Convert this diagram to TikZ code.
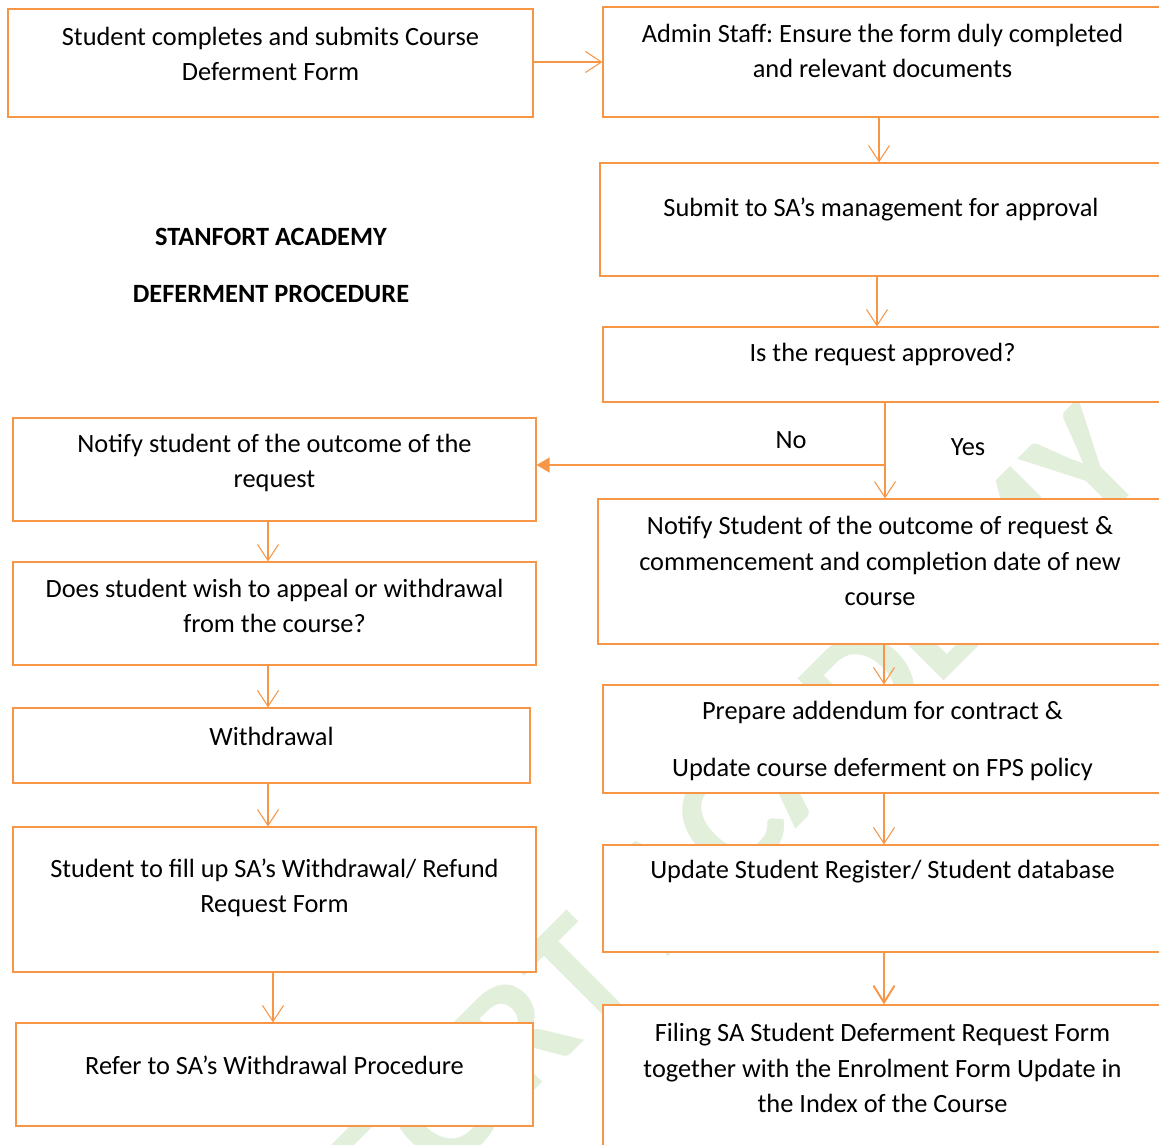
\documentclass[tikz,border=0pt]{standalone}
\usepackage{fontspec}
\setmainfont{Carlito}
\frenchspacing
\usetikzlibrary{arrows.meta,fit}
\definecolor{boxorange}{HTML}{F79646}
\definecolor{markgreen}{HTML}{E2EFDA}
\def\textsize{\fontsize{15}{20}\selectfont}
\tikzset{
    flow/.style={draw=boxorange, fill=white, line width=0.7pt, inner sep=0pt},
    words/.style={align=center, font=\textsize},
    link/.style={draw=boxorange, line width=0.6pt, -{Straight Barb[length=0.32cm,width=0.42cm]}},
    boldlink/.style={draw=boxorange, line width=1.1pt, -{Straight Barb[length=0.34cm,width=0.42cm]}},
    nolink/.style={draw=boxorange, line width=0.9pt, -{Triangle[length=0.26cm,width=0.3cm]}},
}
% box from (x1,y1) to (x2,y2), text centred at height #6
\newcommand{\flowbox}[7]{
    \node[flow, fit={(#2,#3) (#4,#5)}] (#1) {};
    \node[words] (#1-text) at ({(#2+#4)/2},#6) {#7};
}

\begin{document}
\begin{tikzpicture}[x=0.02cm, y=-0.02cm]
    \useasboundingbox (0,0) rectangle (1159,1144);
    \clip (0,0) rectangle (1159,1144);
    \node[rotate=45, anchor=base, text=markgreen, font=\fontsize{92}{92}\selectfont\bfseries] (mark) at (650,975) {STANFORT ACADEMY};

    \node[words, font=\textsize\bfseries] (title) at (271,237) {STANFORT ACADEMY};
    \node[words, font=\textsize\bfseries] (subtitle) at (271,294) {DEFERMENT PROCEDURE};

    % right column
    \flowbox{start}{8}{9}{533}{117}{54}{Student completes and submits Course\\Deferment Form}
    \flowbox{admin}{603}{7}{1162}{117}{51}{Admin Staff: Ensure the form duly completed\\and relevant documents}
    \flowbox{submit}{600}{163}{1162}{276}{209}{Submit to SA’s management for approval}
    \flowbox{approve}{603}{327}{1162}{402}{354}{Is the request approved?}
    \flowbox{tellyes}{598}{499}{1162}{644}{561}{Notify Student of the outcome of request \&\\commencement and completion date of new\\course}
    \flowbox{addendum}{603}{685}{1162}{793}{741}{Prepare addendum for contract \&\\[12pt]Update course deferment on FPS policy}
    \flowbox{register}{603}{845}{1162}{952}{872}{Update Student Register/ Student database}
    \flowbox{filing}{603}{1005}{1162}{1170}{1068}{Filing SA Student Deferment Request Form\\together with the Enrolment Form Update in\\the Index of the Course}

    % left column
    \flowbox{tellno}{13}{418}{536}{521}{463}{Notify student of the outcome of the\\request}
    \flowbox{appeal}{13}{562}{536}{665}{606}{Does student wish to appeal or withdrawal\\from the course?}
    \flowbox{withdraw}{13}{708}{530}{783}{736}{Withdrawal}
    \flowbox{fillup}{13}{827}{536}{972}{888}{Student to fill up SA’s Withdrawal/ Refund\\Request Form}
    \flowbox{refer}{16}{1023}{533}{1126}{1065}{Refer to SA’s Withdrawal Procedure}

    \draw[link] (start.east |- 0,62) -- (admin.west |- 0,62);
    \draw[link] (879,0 |- admin.south) -- (879,0 |- submit.north);
    \draw[link] (877,0 |- submit.south) -- (877,0 |- approve.north);
    \draw[link] (885,0 |- approve.south) -- (885,0 |- tellyes.north);
    \coordinate (split) at (885,465);
    \draw[nolink] (split) -- (tellno.east |- split);
    \node[words] (no) at (791,440) {No};
    \node[words] (yes) at (968,447) {Yes};
    \draw[link] (884,0 |- tellyes.south) -- (884,0 |- addendum.north);
    \draw[link] (884,0 |- addendum.south) -- (884,0 |- register.north);
    \draw[boldlink] (884,0 |- register.south) -- (884,0 |- filing.north);

    \draw[link] (268,0 |- tellno.south) -- (268,0 |- appeal.north);
    \draw[link] (268,0 |- appeal.south) -- (268,0 |- withdraw.north);
    \draw[link] (268,0 |- withdraw.south) -- (268,0 |- fillup.north);
    \draw[link] (273,0 |- fillup.south) -- (273,0 |- refer.north);
\end{tikzpicture}
\end{document}
